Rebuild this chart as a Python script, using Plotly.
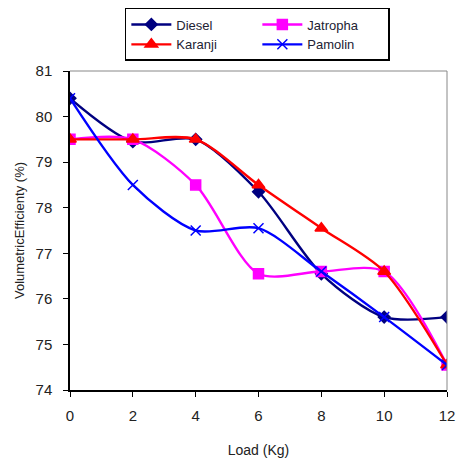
import plotly.graph_objects as go

load = [0, 2, 4, 6, 8, 10, 12]
diesel = [80.4, 79.45, 79.5, 78.35, 76.55, 75.6, 75.6]
jatropha = [79.5, 79.5, 78.5, 76.55, 76.6, 76.6, 74.55]
karanji = [79.5, 79.5, 79.5, 78.5, 77.55, 76.6, 74.55]
pamolin = [80.4, 78.5, 77.5, 77.55, 76.6, 75.6, 74.55]
y_ticks = [74, 75, 76, 77, 78, 79, 80, 81]
x_ticks = [0, 2, 4, 6, 8, 10, 12]

series = [
    ("Diesel", diesel, "#000080", "diamond", 9),
    ("Jatropha", jatropha, "#FF00FF", "square", 10),
    ("Karanji", karanji, "#FF0000", "triangle-up", 11),
    ("Pamolin", pamolin, "#0000FF", "x-thin", 10),
]

fig = go.Figure()
for name, vals, color, sym, size in series:
    fig.add_trace(go.Scatter(
        x=load, y=vals, name=name, mode="lines+markers",
        line=dict(color=color, width=2.4, shape="spline", smoothing=0.8),
        marker=dict(symbol=sym, size=size, color=color,
                    line=dict(color=color, width=1.5)),
    ))

fam = "Liberation Sans, Arial, sans-serif"
fig.update_layout(
    width=459, height=470,
    margin=dict(l=70, r=12, t=71, b=80, autoexpand=False),
    paper_bgcolor="white", plot_bgcolor="white",
    font=dict(family=fam, size=15, color="#222222"),
    showlegend=True,
    legend=dict(
        orientation="h", x=0.272, y=0.983, xanchor="left", yanchor="top",
        xref="container", yref="container",
        entrywidth=76, bordercolor="#000000", borderwidth=1.5,
        font=dict(family=fam, size=13, color="#222233"),
        bgcolor="white", itemwidth=40, tracegroupgap=0,
    ),
    xaxis=dict(
        range=[0, 12], tickvals=x_ticks, ticks="outside", ticklen=5,
        tickcolor="#000", showline=True, linecolor="#000", linewidth=1.5,
        mirror=False, showgrid=False, zeroline=False,
        tickfont=dict(size=15), ticklabelstandoff=6,
        title=dict(text="Load (Kg)", standoff=22, font=dict(size=14)),
    ),
    yaxis=dict(
        range=[74, 81], tickvals=y_ticks, ticks="outside", ticklen=5,
        tickcolor="#000", showline=True, linecolor="#000", linewidth=1.5,
        showgrid=False, zeroline=False,
        tickfont=dict(size=15), ticklabelstandoff=8,
        title=dict(text="VolumetricEfficienty (%)", standoff=8,
                   font=dict(size=13)),
    ),
)
# Frame lines on top and right
fig.add_shape(type="line", xref="paper", yref="paper", x0=0, x1=1, y0=1, y1=1,
              line=dict(color="#888888", width=1))
fig.add_shape(type="line", xref="paper", yref="paper", x0=1, x1=1, y0=0, y1=1,
              line=dict(color="#888888", width=1))

fig.write_html("out.html")
